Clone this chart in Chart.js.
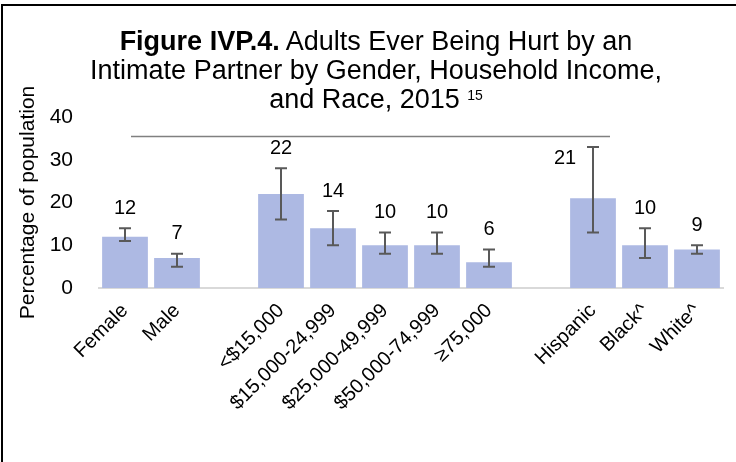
<!DOCTYPE html>
<html>
<head>
<meta charset="utf-8">
<script src="https://cdn.jsdelivr.net/npm/chart.js@4"></script>
<style>
  body { margin: 0; background: #fff; }
  #wrap { position: relative; width: 736px; height: 462px; overflow: hidden; }
  #frameTop { position: absolute; left: 1px; top: 4px; width: 735px; height: 2px; background: #000; }
  #frameLeft { position: absolute; left: 1px; top: 4px; width: 2px; height: 458px; background: #000; }
  #title {
    position: absolute; left: 16px; top: 27px; width: 720px;
    text-align: center; font-family: "Liberation Sans", Arial, sans-serif;
    font-size: 27px; line-height: 29px; color: #000;
  }
  #title sup { font-size: 14px; line-height: 0; vertical-align: 8px; }
</style>
</head>
<body>
<div id="wrap">
  <canvas id="myChart" width="736" height="462"></canvas>
  <div id="frameTop"></div>
  <div id="frameLeft"></div>
  <div id="title"><b>Figure IVP.4.</b> Adults Ever Being Hurt by an<br>Intimate Partner by Gender, Household Income,<br>and Race, 2015 <sup>15</sup></div>
</div>
<script>
//data
const categories = ["Female", "Male", "", "<$15,000", "$15,000-24,999", "$25,000-49,999", "$50,000-74,999", "≥75,000", "", "Hispanic", "Black^", "White^"];
const values = [12, 7, null, 22, 14, 10, 10, 6, null, 21, 10, 9];
const errLow = [11, 5, null, 16, 10, 8, 8, 5, null, 13, 7, 8];
const errHigh = [14, 8, null, 28, 18, 13, 13, 9, null, 33, 14, 10];
const yTicks = [0, 10, 20, 30, 40];

const font = "Liberation Sans";

//error bars + value labels
const errorBars = {
    id: "errorBars",
    afterDatasetsDraw(chart) {
        const ctx = chart.ctx;
        const x = chart.scales.x;
        const y = chart.scales.y;
        ctx.save();

        // thin grey rule under the title
        ctx.strokeStyle = "#808080";
        ctx.lineWidth = 1.5;
        ctx.beginPath();
        ctx.moveTo(131, 136.5);
        ctx.lineTo(610, 136.5);
        ctx.stroke();

        values.forEach((v, i) => {
            if (v === null) return;
            const cx = x.getPixelForValue(i);
            const top = y.getPixelForValue(errHigh[i]);
            const bottom = y.getPixelForValue(errLow[i]);
            ctx.strokeStyle = "#595959";
            ctx.lineWidth = 2;
            ctx.beginPath();
            ctx.moveTo(cx, top);
            ctx.lineTo(cx, bottom);
            ctx.moveTo(cx - 6, top);
            ctx.lineTo(cx + 6, top);
            ctx.moveTo(cx - 6, bottom);
            ctx.lineTo(cx + 6, bottom);
            ctx.stroke();

            ctx.fillStyle = "#000";
            ctx.font = "20px '" + font + "'";
            ctx.textAlign = "center";
            ctx.textBaseline = "middle";
            if (errHigh[i] - v > 10) {
                // wide interval: label goes beside the bar
                ctx.fillText(v, cx - 28, top + 12);
            } else {
                ctx.fillText(v, cx, top - 20);
            }
        });
        ctx.restore();
    }
};

const config = {
    type: "bar",
    data: {
        labels: categories,
        datasets: [{
            data: values,
            backgroundColor: "rgb(173, 185, 227)",
            barPercentage: 0.88,
            categoryPercentage: 1.0
        }]
    },
    options: {
        responsive: false,
        animation: false,
        devicePixelRatio: 1,
        layout: { padding: { top: 117, left: 0, right: 13, bottom: 0 } },
        plugins: {
            legend: { display: false },
            tooltip: { enabled: false }
        },
        scales: {
            x: {
                grid: { drawOnChartArea: false, drawTicks: false },
                border: { color: "#d9d9d9", width: 2 },
                ticks: {
                    autoSkip: false,
                    maxRotation: 45,
                    minRotation: 45,
                    padding: 11,
                    color: "#000",
                    font: { family: font, size: 20 }
                },
                afterFit(scale) { scale.height = 174; }
            },
            y: {
                min: 0,
                max: 40,
                grid: { display: false },
                border: { display: false },
                afterBuildTicks(scale) { scale.ticks = yTicks.map(v => ({ value: v })); },
                ticks: {
                    padding: 18,
                    color: "#000",
                    font: { family: font, size: 21 }
                },
                title: {
                    display: true,
                    text: "Percentage of population",
                    color: "#000",
                    font: { family: font, size: 21 },
                    padding: { top: 16, bottom: 0 }
                },
                afterFit(scale) { scale.width = 99; }
            }
        }
    },
    plugins: [errorBars]
};

const myChart = new Chart(document.getElementById("myChart"), config);
</script>
</body>
</html>
